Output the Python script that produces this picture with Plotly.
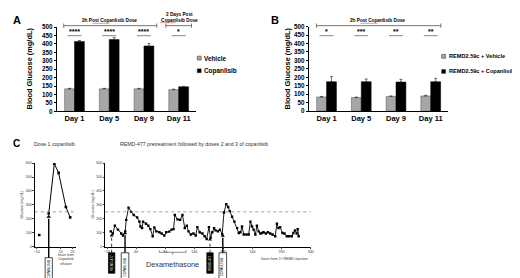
import plotly.graph_objects as go

W, H = 520, 278
def px(x):
    return x / W
def py(y):
    return 1 - y / H

FONT = "Arial, Liberation Sans, sans-serif"

# ---------------- data: panels A and B ----------------
days = ["Day 1", "Day 5", "Day 9", "Day 11"]
a_names = ["Vehicle", "Copanlisib"]
a_vehicle = [134, 134, 134, 129]
a_vehicle_err = [3, 3, 3, 3]
a_copan = [415, 426, 388, 146]
a_copan_err = [6, 12, 15, 3]
a_sig = ["****", "****", "****", "*"]

b_names = ["REMD2.59c + Vehicle", "REMD2.59c + Copanlisib"]
b_vehicle = [84, 80, 87, 90]
b_vehicle_err = [3, 3, 3, 4]
b_copan = [174, 174, 172, 174]
b_copan_err = [30, 16, 16, 20]
b_sig = ["*", "***", "**", "**"]

y_ticks_ab = list(range(0, 501, 50))

# ---------------- data: panel C ----------------
c1_base_hours = [-8]
c1_base_glucose = [84]
c1_hours = [0, 4.7, 8.3, 14.4, 18]
c1_glucose = [238, 595, 530, 285, 210]
c1_ticks = [-10, 10, 20]

c2_hours = [-3.5, 0, 3.5, 8.8, 14.5, 17.5, 21.3, 23, 27, 31.5, 36, 41.8, 45.7, 47.5,
            50.3, 52, 57, 61, 64.5, 68.5, 71.4, 74.8, 80, 84, 88.4, 91.8, 97, 101,
            104.4, 106.6, 111.2, 115.7, 119.7, 123.7, 127.1, 130, 134, 138.5, 142.5,
            145.3, 149.3, 153.9, 157.8, 161.3, 165.2, 168, 171, 174, 176.6, 180.6,
            184, 188, 191, 195, 198.2, 201, 205, 209, 213.6, 216.5, 219.3, 222, 225,
            229.5, 233.5, 236.4, 239.2, 242, 245, 247.7, 250.6, 253.4, 256.3, 259,
            263, 266.5, 270.5, 274.5, 279, 282, 284.7, 287.6, 291.6, 295, 299, 303,
            307.5, 310.3, 313, 316, 317.7, 319.4]
c2_glucose = [110, 94, 150, 122, 94, 80, 110, 192, 280, 250, 227, 210, 180, 145,
              133, 180, 164, 150, 126, 75, 138, 110, 103, 94, 80, 103, 108, 122,
              126, 227, 196, 192, 227, 133, 150, 110, 87, 94, 80, 140, 103, 94, 75,
              55, 140, 64, 103, 133, 117, 110, 122, 90, 245, 305, 285, 255, 215, 180,
              133, 98, 103, 145, 87, 87, 87, 180, 145, 122, 87, 150, 110, 94, 98, 103,
              94, 103, 94, 87, 75, 164, 133, 140, 98, 94, 75, 75, 75, 98, 117, 94,
              126, 75]
c2_ticks = [-10, 40, 90, 140, 190, 240, 290, 340]
threshold = 250
c1_copan_dose = [0]
c1_copan_tip = [215]
c2_copan_dose = [21, 189]
c2_copan_tip = [95, 78]
c2_remd_dose = [-2, 167]
c2_remd_tip = [80, 50]
dexa_span = [80, 126]

# ---------------- geometry ----------------
ya_dom = [py(102), py(15.5)]
yb_dom = [py(101.7), py(15)]
yc_dom = [py(240.7), py(155)]
C_YMAX = 600

def c_ypaper(v):
    return yc_dom[0] + v / C_YMAX * (yc_dom[1] - yc_dom[0])

GREY = "#a6a6a6"

fig = go.Figure()

def add_bars(names, veh, veh_err, cop, cop_err, xa, ya):
    fig.add_trace(go.Bar(x=days, y=veh, name=names[0], xaxis=xa, yaxis=ya,
                         marker=dict(color=GREY, line=dict(color="#555", width=0.5)),
                         error_y=dict(type="data", array=veh_err, arrayminus=[0] * len(veh_err),
                                      symmetric=False, color="#333", thickness=0.7, width=1.5),
                         showlegend=False, hoverinfo="skip"))
    fig.add_trace(go.Bar(x=days, y=cop, name=names[1], xaxis=xa, yaxis=ya,
                         marker=dict(color="black", line=dict(color="black", width=0.5)),
                         error_y=dict(type="data", array=cop_err, arrayminus=[0] * len(cop_err),
                                      symmetric=False, color="#333", thickness=0.7, width=1.5),
                         showlegend=False, hoverinfo="skip"))

add_bars(a_names, a_vehicle, a_vehicle_err, a_copan, a_copan_err, "x", "y")
add_bars(b_names, b_vehicle, b_vehicle_err, b_copan, b_copan_err, "x2", "y2")

# panel C traces
fig.add_trace(go.Scatter(x=c1_base_hours, y=c1_base_glucose, mode="markers", xaxis="x3", yaxis="y3",
                         marker=dict(color="black", size=2.6, symbol="square"), showlegend=False))
fig.add_trace(go.Scatter(x=c1_hours, y=c1_glucose, mode="lines+markers", xaxis="x3", yaxis="y3",
                         line=dict(color="black", width=1),
                         marker=dict(color="black", size=2.6, symbol="square"), showlegend=False))
fig.add_trace(go.Scatter(x=c2_hours, y=c2_glucose, mode="lines+markers", xaxis="x4", yaxis="y4",
                         line=dict(color="black", width=0.9),
                         marker=dict(color="black", size=2.4, symbol="square"), showlegend=False))
# arrowheads of the dosing arrows
fig.add_trace(go.Scatter(x=c1_copan_dose, y=c1_copan_tip, mode="markers", xaxis="x3", yaxis="y3",
                         marker=dict(color="black", size=4, symbol="triangle-up"),
                         cliponaxis=False, showlegend=False))
fig.add_trace(go.Scatter(x=c2_copan_dose + c2_remd_dose, y=c2_copan_tip + c2_remd_tip,
                         mode="markers", xaxis="x4", yaxis="y4",
                         marker=dict(color="black", size=3.6, symbol="triangle-up"),
                         cliponaxis=False, showlegend=False))

ab_x = dict(type="category", showline=True, linecolor="black", linewidth=0.8, ticks="",
            showgrid=False, tickfont=dict(size=7.5, family=FONT, color="black", weight="bold"),
            range=[-0.5, 3.5], fixedrange=True)
ab_y = dict(range=[0, 500], tickvals=y_ticks_ab, showline=True, linecolor="black", linewidth=0.8,
            ticks="outside", ticklen=2.5, tickwidth=0.7, tickcolor="black", showgrid=False,
            zeroline=False, tickfont=dict(size=6.3, family=FONT, color="black", weight="bold"))
c_y = dict(range=[0, C_YMAX], dtick=100, showline=True, linecolor="black", linewidth=0.7,
           ticks="outside", ticklen=1.5, tickwidth=0.6, showgrid=False, zeroline=False,
           tickfont=dict(size=3.6, family=FONT, color="#333"))
c_x = dict(showline=True, linecolor="black", linewidth=0.7, ticks="outside", ticklen=1.5,
           tickwidth=0.6, showgrid=False, zeroline=False,
           tickfont=dict(size=3.6, family=FONT, color="#333"))

fig.update_layout(
    width=W, height=H, margin=dict(l=0, r=0, t=0, b=0),
    paper_bgcolor="white", plot_bgcolor="white",
    font=dict(family=FONT, color="black"),
    barmode="group", bargap=0.43, bargroupgap=0,
    xaxis=dict(ab_x, domain=[px(48.5), px(188.5)], anchor="y"),
    yaxis=dict(ab_y, domain=ya_dom, anchor="x"),
    xaxis2=dict(ab_x, domain=[px(302.5), px(442.5)], anchor="y2"),
    yaxis2=dict(ab_y, domain=yb_dom, anchor="x2"),
    xaxis3=dict(c_x, domain=[px(26), px(68)], range=[-11.7, 23.3], tickvals=c1_ticks, anchor="y3"),
    yaxis3=dict(c_y, domain=yc_dom, anchor="x3"),
    xaxis4=dict(c_x, domain=[px(97), px(304)], range=[-13, 340], tickvals=c2_ticks, anchor="y4"),
    yaxis4=dict(c_y, domain=yc_dom, anchor="x4"),
    showlegend=False,
    hovermode=False,
)

ann = []
shapes = []

def text(x, y, s, size, bold=False, color="black", xanchor="center", yanchor="middle",
         xref="paper", angle=0, yref="paper"):
    ann.append(dict(x=x, y=y, xref=xref, yref=yref, text=s, showarrow=False,
                    xanchor=xanchor, yanchor=yanchor, textangle=angle,
                    font=dict(size=size, family=FONT, color=color,
                              weight="bold" if bold else "normal")))

def hline(x0, x1, y, xref="paper", color="#555", width=0.8, dash="solid"):
    shapes.append(dict(type="line", x0=x0, x1=x1, y0=y, y1=y, xref=xref, yref="paper",
                       line=dict(color=color, width=width, dash=dash)))

def vline(x, y0, y1, xref="paper", color="#555", width=0.8, dash="solid"):
    shapes.append(dict(type="line", x0=x, x1=x, y0=y0, y1=y1, xref=xref, yref="paper",
                       line=dict(color=color, width=width, dash=dash)))

# panel labels
text(px(2), py(8), "A", 11, bold=True, xanchor="left")
text(px(262), py(8), "B", 11, bold=True, xanchor="left")
text(px(2), py(135), "C", 10, bold=True, xanchor="left")

# y titles
text(px(21), py(58), "Blood Glucose (mg/dL)", 7.4, bold=True, angle=-90)
text(px(281), py(58), "Blood Glucose (mg/dL)", 7.4, bold=True, angle=-90)

# brackets
def bracket(xref, x0, x1, y):
    hline(x0, x1, py(y), xref=xref)
    vline(x0, py(y - 2.2), py(y + 2.2), xref=xref)
    vline(x1, py(y - 2.2), py(y + 2.2), xref=xref)

bracket("x", -0.31, 2.37, 14)
bracket("x", 2.63, 3.37, 14)
bracket("x2", -0.29, 3.29, 14)
text(px(101.7), py(9), "2h Post Copanlisib Dose", 4.7, bold=True)
text(px(171.7), py(5.5), "2 Days Post<br>Copanlisib Dose", 4.7, bold=True)
text(px(371.7), py(9), "2h Post Copanlisib Dose", 4.7, bold=True)
# red spell-check underlines seen under "Copanlisib"
for x0, x1, yy in ((84, 101.5, 11.6), (354, 371.5, 11.6), (152, 168, 11.0)):
    hline(px(x0), px(x1), py(yy), color="#e05050", width=0.6)

# significance marks
for sig, xref in ((a_sig, "x"), (b_sig, "x2")):
    for i, s in enumerate(sig):
        hline(i - 0.2, i + 0.2, py(24.3), xref=xref, color="#666", width=0.8)
        text(i, py(20.5), s, 7, bold=True, xref=xref)

# manual legends
def legend_item(xs, ys, color, label, size):
    shapes.append(dict(type="rect", xref="paper", yref="paper",
                       x0=px(xs - 2), x1=px(xs + 2), y0=py(ys + 2), y1=py(ys - 2),
                       fillcolor=color, line=dict(color="#333", width=0.5)))
    text(px(xs + 3.2), py(ys), label, size, bold=True, xanchor="left")

legend_item(191.7, 47.3, GREY, a_names[0], 6.4)
legend_item(191.7, 60.3, "black", a_names[1], 6.4)
legend_item(438, 45.5, GREY, b_names[0], 5.6)
legend_item(438, 61, "black", b_names[1], 5.6)

# ---------------- panel C decorations ----------------
text(px(23), py(135), "Dose 1 copanlisib", 5.2, color="#333", xanchor="left")
text(px(110), py(135), "REMD-477 pretreatment followed by doses 2 and 3 of copanlisib", 5.2,
     color="#333", xanchor="left")
text(px(13), py(197), "Glucose (mg/dL)", 3.8, color="#333", angle=-90)
text(px(85), py(197), "Glucose (mg/dL)", 3.8, color="#333", angle=-90)
text(px(57), py(254), "hours from<br>Copanlisib<br>infusion", 3.3, color="#333")
text(px(278), py(253), "hours from 1ˢᵗ REMD injection", 3.5, color="#333")

# threshold dotted lines
for xr, yr in (("x3", "y3"), ("x4", "y4")):
    shapes.append(dict(type="line", xref=xr + " domain", yref=yr, x0=0, x1=1,
                       y0=threshold, y1=threshold,
                       line=dict(color="#777", width=0.7, dash="dot")))

def dose_box(xref, hour, top, bottom, half_w, filled, label):
    shapes.append(dict(type="rect", xref=xref, yref="paper", xsizemode="pixel", xanchor=hour,
                       x0=-half_w, x1=half_w, y0=py(bottom), y1=py(top),
                       fillcolor="black" if filled else "white",
                       line=dict(color="black", width=0.7)))
    text(hour, py((top + bottom) / 2), label, 3.1, color="white" if filled else "black",
         xref=xref, angle=-90)

def dose_line(xref, hour, tip, start_py, dashed):
    tip_paper = c_ypaper(tip)
    vline(hour, py(start_py), tip_paper - 2.0 / H, xref=xref, color="black",
          width=0.8 if dashed else 1.4, dash="dot" if dashed else "solid")

for h, t in zip(c1_copan_dose, c1_copan_tip):
    dose_line("x3", h, t, 252, False)
    dose_box("x3", h, 252, 277, 3.6, False, "COPANLISIB")
for h, t in zip(c2_copan_dose, c2_copan_tip):
    dose_line("x4", h, t, 247, False)
    dose_box("x4", h, 247, 277, 3.8, False, "COPANLISIB")
for h, t in zip(c2_remd_dose, c2_remd_tip):
    dose_line("x4", h, t, 247, True)
    dose_box("x4", h, 247, 268, 3.2, True, "REMD-477")

# dexamethasone bracket
d0, d1 = dexa_span
hline(d0, d1, py(246.5), xref="x4", color="#444", width=0.6)
vline(d0, py(246.5), py(244.5), xref="x4", color="#444", width=0.6)
vline(d1, py(246.5), py(244.5), xref="x4", color="#444", width=0.6)
vline((d0 + d1) / 2, py(246.5), py(249), xref="x4", color="#444", width=0.6)
text((d0 + d1) / 2, py(259), "Dexamethasone", 7.3, color="#333", xref="x4")

fig.update_layout(annotations=ann, shapes=shapes)
fig.write_html("out.html", config={"displayModeBar": False})
